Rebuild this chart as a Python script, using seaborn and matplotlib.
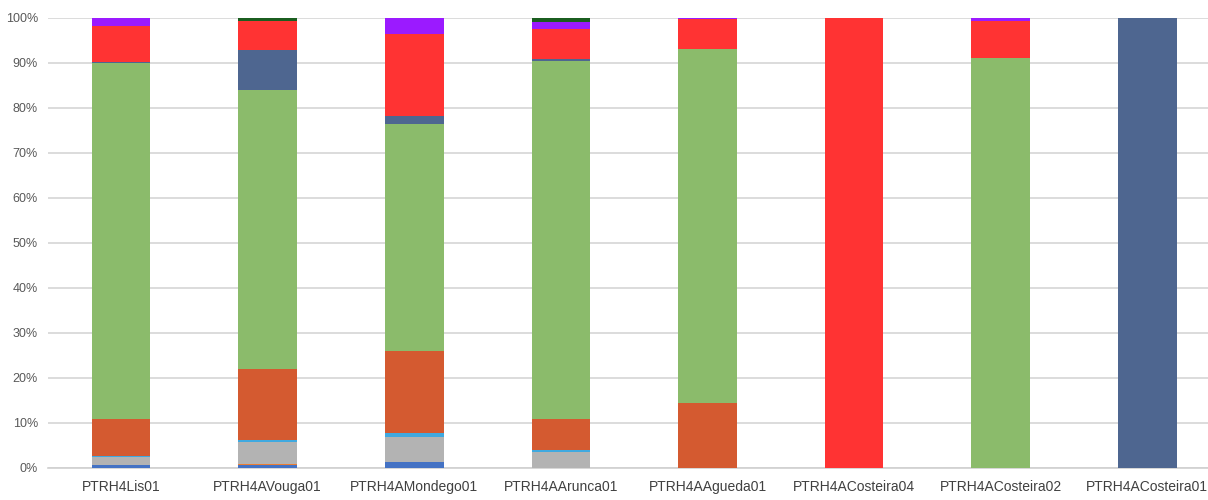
import numpy as np
import matplotlib
matplotlib.use("Agg")
import matplotlib.pyplot as plt
from matplotlib.ticker import FixedLocator, PercentFormatter
import seaborn as sns

# Water-body codes on the x axis
categories = ["PTRH4Lis01", "PTRH4AVouga01", "PTRH4AMondego01", "PTRH4AArunca01",
              "PTRH4AAgueda01", "PTRH4ACosteira04", "PTRH4ACosteira02", "PTRH4ACosteira01"]

# Percentage share of each class, stacked bottom to top
blue       = [0.5, 0.5, 1.2, 0.0, 0.0, 0.0, 0.0, 0.0]
orange_lt  = [0.0, 0.3, 0.0, 0.0, 0.0, 0.0, 0.0, 0.0]
gray       = [1.9, 5.0, 5.7, 3.5, 0.0, 0.0, 0.0, 0.0]
cyan       = [0.3, 0.4, 0.8, 0.4, 0.0, 0.0, 0.0, 0.0]
orange     = [8.1, 15.8, 18.3, 6.9, 14.4, 0.0, 0.0, 0.0]
green      = [79.3, 62.1, 50.5, 79.7, 78.8, 0.0, 91.0, 0.0]
navy       = [0.2, 8.7, 1.7, 0.3, 0.0, 0.0, 0.0, 100.0]
red        = [7.9, 6.5, 18.3, 6.7, 6.6, 100.0, 8.4, 0.0]
purple     = [1.8, 0.0, 3.5, 1.7, 0.2, 0.0, 0.6, 0.0]
dark_green = [0.0, 0.7, 0.0, 0.8, 0.0, 0.0, 0.0, 0.0]

series = [
    (blue, "#4472C4"),
    (orange_lt, "#ED7D31"),
    (gray, "#B3B3B3"),
    (cyan, "#3FA9E0"),
    (orange, "#D45A30"),
    (green, "#8BBB6B"),
    (navy, "#4E6690"),
    (red, "#FF3333"),
    (purple, "#9B1AFF"),
    (dark_green, "#1B5E20"),
]

sns.set_style("white")
plt.rcParams["font.family"] = ["Liberation Sans", "DejaVu Sans"]

fig = plt.figure(figsize=(12.08, 5.0), dpi=100)
ax = fig.add_axes([0.0395, 0.0646, 0.971, 0.8994])

bottom = np.zeros(len(categories))
for vals, col in series:
    vals = np.asarray(vals, dtype=float)
    sns.barplot(x=categories, y=vals, bottom=bottom, color=col, width=0.4,
                saturation=1, ax=ax, edgecolor="none", linewidth=0, zorder=3)
    bottom += vals

ax.set_ylim(0, 100)
ax.set_xlim(-0.5, len(categories) - 0.5)
ax.yaxis.set_major_locator(FixedLocator(np.arange(0, 101, 10)))
ax.yaxis.set_major_formatter(PercentFormatter(decimals=0))
ax.grid(axis="y", color="#DCDCDC", linewidth=1.4, zorder=0)
ax.set_axisbelow(True)

for side in ["top", "right", "left"]:
    ax.spines[side].set_visible(False)
ax.spines["bottom"].set_color("#D0D0D0")
ax.spines["bottom"].set_linewidth(1.2)

ax.tick_params(axis="y", length=0, labelsize=9, labelcolor="#595959", pad=7)
ax.tick_params(axis="x", which="major", length=0, labelsize=10, labelcolor="#404040", pad=9)
ax.xaxis.set_minor_locator(FixedLocator(np.arange(-0.5, len(categories), 1.0)))
ax.tick_params(axis="x", which="minor", length=5, color="#D0D0D0", width=1.2)
ax.set_xlabel("")
ax.set_ylabel("")

fig.savefig("out.png", dpi=100)
